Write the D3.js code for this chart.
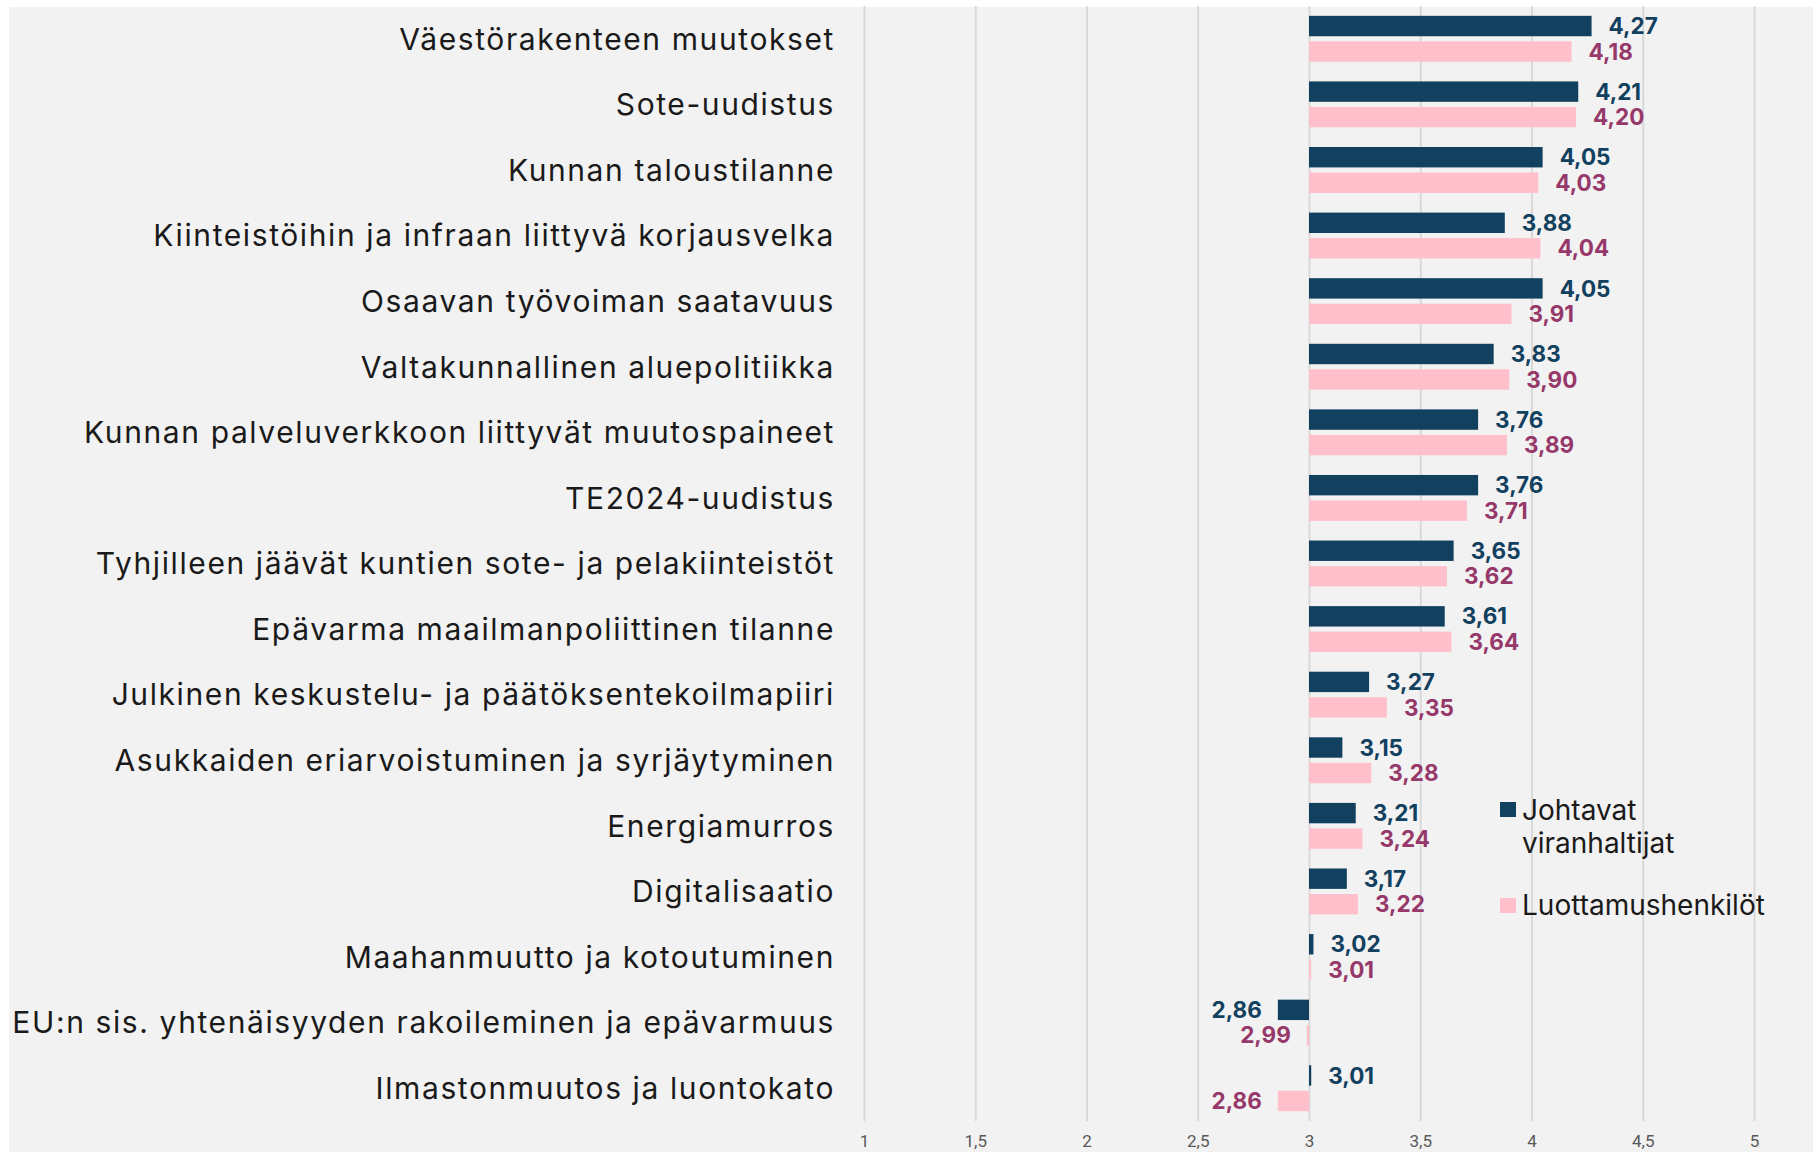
<!DOCTYPE html>
<html>
<head>
<meta charset="utf-8">
<script src="https://cdn.jsdelivr.net/npm/d3@7"></script>
<style>
  body { margin: 0; background: #fff; }
  svg { display: block; }
</style>
</head>
<body>
<svg id="chart" width="1813" height="1152"></svg>
<script>
// data
const categories = [
  "Väestörakenteen muutokset",
  "Sote-uudistus",
  "Kunnan taloustilanne",
  "Kiinteistöihin ja infraan liittyvä korjausvelka",
  "Osaavan työvoiman saatavuus",
  "Valtakunnallinen aluepolitiikka",
  "Kunnan palveluverkkoon liittyvät muutospaineet",
  "TE2024-uudistus",
  "Tyhjilleen jäävät kuntien sote- ja pelakiinteistöt",
  "Epävarma maailmanpoliittinen tilanne",
  "Julkinen keskustelu- ja päätöksentekoilmapiiri",
  "Asukkaiden eriarvoistuminen ja syrjäytyminen",
  "Energiamurros",
  "Digitalisaatio",
  "Maahanmuutto ja kotoutuminen",
  "EU:n sis. yhtenäisyyden rakoileminen ja epävarmuus",
  "Ilmastonmuutos ja luontokato"
];
const johtavat = [4.27, 4.21, 4.05, 3.88, 4.05, 3.83, 3.76, 3.76, 3.65, 3.61, 3.27, 3.15, 3.21, 3.17, 3.02, 2.86, 3.01];
const luottamus = [4.18, 4.20, 4.03, 4.04, 3.91, 3.90, 3.89, 3.71, 3.62, 3.64, 3.35, 3.28, 3.24, 3.22, 3.01, 2.99, 2.86];
const tickValues = [1, 1.5, 2, 2.5, 3, 3.5, 4, 4.5, 5];
const seriesNames = ["Johtavat viranhaltijat", "Luottamushenkilöt"];

const colors = { dark: "#12405f", pink: "#ffc0cb", darkText: "#12405f", pinkText: "#96386a" };
const font = "Inter, 'Open Sans', sans-serif";

const svg = d3.select("#chart");
const W = 1813, H = 1152;

const fi = d3.formatLocale({ decimal: ",", thousands: " ", grouping: [3], currency: ["", "€"] });
const fmt2 = fi.format(".2f");
const fmtTick = v => String(v).replace(".", ",");

// background panel
svg.append("rect")
  .attr("x", 9).attr("y", 7)
  .attr("width", W - 9).attr("height", H - 7)
  .attr("fill", "#f2f2f2");

const x = d3.scaleLinear().domain([1, 5]).range([864, 1754]);
const y = d3.scaleBand().domain(categories).range([6, 1121])
  .paddingInner(0.3).paddingOuter(0.15);
const sub = d3.scaleBand().domain(["j", "l"]).range([0, y.bandwidth()]).paddingInner(0.2);

// gridlines + tick labels
const axis = svg.append("g")
  .attr("transform", `translate(0,1121)`)
  .call(d3.axisBottom(x).tickValues(tickValues).tickSize(-1115).tickPadding(14).tickFormat(fmtTick));
axis.select(".domain").remove();
axis.selectAll(".tick line").attr("stroke", "#d9d9d9").attr("stroke-width", 2);
axis.selectAll(".tick text")
  .attr("fill", "#595959")
  .style("font-family", "Roboto, sans-serif")
  .style("font-size", "17px");

// rows
const rows = categories.map((c, i) => ({ cat: c, j: johtavat[i], l: luottamus[i] }));
const base = x(3);

const groups = svg.append("g").selectAll("g")
  .data(rows)
  .enter().append("g")
  .attr("transform", d => `translate(0,${y(d.cat)})`);

const barSpec = [
  { key: "j", fill: colors.dark, text: colors.darkText },
  { key: "l", fill: colors.pink, text: colors.pinkText }
];

barSpec.forEach(s => {
  groups.append("rect")
    .attr("x", d => Math.min(base, x(d[s.key])))
    .attr("y", sub(s.key))
    .attr("width", d => Math.max(1.5, Math.abs(x(d[s.key]) - base)))
    .attr("height", sub.bandwidth())
    .attr("fill", s.fill);

  groups.append("text")
    .attr("x", d => d[s.key] >= 3 ? x(d[s.key]) + 17 : x(d[s.key]) - 16)
    .attr("y", sub(s.key) + sub.bandwidth() / 2)
    .attr("dy", "0.36em")
    .attr("text-anchor", d => d[s.key] >= 3 ? "start" : "end")
    .attr("fill", s.text)
    .style("font-family", font)
    .style("font-weight", 700)
    .style("font-size", "22.5px")
    .text(d => fmt2(d[s.key]));
});

// category labels
svg.append("g").selectAll("text")
  .data(categories)
  .enter().append("text")
  .attr("x", 835)
  .attr("y", d => y(d) + y.bandwidth() / 2)
  .attr("dy", "0.36em")
  .attr("text-anchor", "end")
  .attr("fill", "#1a1a1a")
  .style("font-family", font)
  .style("font-size", "30px")
  .style("letter-spacing", "1.6px")
  .text(d => d);

// legend
const legend = svg.append("g").attr("transform", "translate(1500,0)");
legend.append("rect").attr("x", 0).attr("y", 802).attr("width", 16).attr("height", 15).attr("fill", colors.dark);
legend.append("rect").attr("x", 0).attr("y", 898).attr("width", 16).attr("height", 15).attr("fill", colors.pink);
const legText = legend.append("text")
  .attr("fill", "#1a1a1a")
  .style("font-family", font)
  .style("font-size", "28px");
legText.append("tspan").attr("x", 22).attr("y", 820).text("Johtavat");
legText.append("tspan").attr("x", 22).attr("y", 853).text("viranhaltijat");
legend.append("text")
  .attr("x", 22).attr("y", 915)
  .attr("fill", "#1a1a1a")
  .style("font-family", font)
  .style("font-size", "28px")
  .text(seriesNames[1]);
</script>
</body>
</html>
